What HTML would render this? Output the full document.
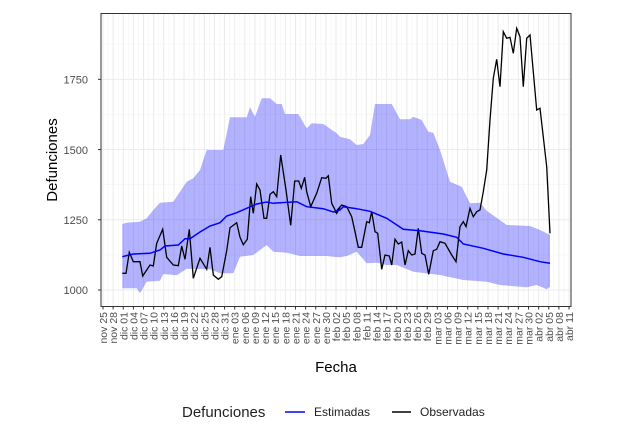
<!DOCTYPE html>
<html><head><meta charset="utf-8"><style>
body{margin:0;background:#fff;}
svg{display:block;font-family:"Liberation Sans",sans-serif;}
</style></head><body>
<svg id="s" width="624" height="430" viewBox="0 0 624 430" xmlns="http://www.w3.org/2000/svg">
<rect x="101" y="13.5" width="470" height="293" fill="#fff"/>
<g id="grid"></g>
<polygon id="band" fill="#0000ff" fill-opacity="0.3" stroke="none"/>
<polyline id="obs" fill="none" stroke="#000" stroke-width="1.3"/>
<polyline id="est" fill="none" stroke="#0000ff" stroke-width="1.5"/>
<rect x="101" y="13.5" width="470" height="293" fill="none" stroke="#333" stroke-width="1"/>
<g id="ticks"></g>
<g font-size="11" fill="#4d4d4d" text-anchor="end">
<text x="88" y="294">1000</text>
<text x="88" y="224">1250</text>
<text x="88" y="154">1500</text>
<text x="88" y="83.5">1750</text>
</g>
<text transform="translate(57,160) rotate(-90)" text-anchor="middle" font-size="15" fill="#000">Defunciones</text>
<text x="336" y="372" text-anchor="middle" font-size="15" fill="#000">Fecha</text>
<text x="182" y="417" font-size="15" fill="#222">Defunciones</text>
<line x1="285" y1="412" x2="305" y2="412" stroke="#0000ff" stroke-width="1.5"/>
<text x="314" y="416" font-size="12" fill="#222">Estimadas</text>
<line x1="392" y1="412" x2="411" y2="412" stroke="#000" stroke-width="1.5"/>
<text x="420" y="416" font-size="12" fill="#222">Observadas</text>
</svg>
<script>
var NS="http://www.w3.org/2000/svg";
function el(t,a,p,txt){var e=document.createElementNS(NS,t);for(var k in a)e.setAttribute(k,a[k]);if(txt)e.textContent=txt;p.appendChild(e);return e;}
function cv(pts,ox){return pts.map(function(p){return [ox+p[0]/3,p[1]/3];});}
var g=document.getElementById('grid'),tk=document.getElementById('ticks');
var x0=103,dx=3.377;
[1000,1250,1500,1750].forEach(function(v){var y=290-(v-1000)*0.2809;el('line',{x1:101,x2:571,y1:y,y2:y,stroke:'#ebebeb','stroke-width':1},g);
el('line',{x1:98,x2:101,y1:y,y2:y,stroke:'#333'},tk);});
[1125,1375,1625,1875].forEach(function(v){var y=290-(v-1000)*0.2809;el('line',{x1:101,x2:571,y1:y,y2:y,stroke:'#f4f4f4','stroke-width':0.6},g);});
var labels=["nov 25","nov 28"];
["01","04","07","10","13","16","19","22","25","28","31"].forEach(function(d){labels.push("dic "+d);});
["03","06","09","12","15","18","21","24","27","30"].forEach(function(d){labels.push("ene "+d);});
["02","05","08","11","14","17","20","23","26","29"].forEach(function(d){labels.push("feb "+d);});
["03","06","09","12","15","18","21","24","27","30"].forEach(function(d){labels.push("mar "+d);});
["02","05","08","11"].forEach(function(d){labels.push("abr "+d);});
labels.forEach(function(l,i){var x=x0+i*3*dx;
el('line',{x1:x,x2:x,y1:13.5,y2:306.5,stroke:'#ebebeb','stroke-width':1},g);
if(i<labels.length-1)el('line',{x1:x+1.5*dx,x2:x+1.5*dx,y1:13.5,y2:306.5,stroke:'#f4f4f4','stroke-width':0.6},g);
el('line',{x1:x,x2:x,y1:306.5,y2:309.5,stroke:'#333'},tk);
el('text',{transform:'translate('+(x+4)+',312) rotate(-90)','text-anchor':'end','font-size':'10.5',fill:'#4d4d4d'},tk,l);});
var estA=cv([[247,770],[280,762],[330,760],[360,750],[375,738],[415,735],[435,716],[450,716],[480,696],[510,678],[540,668],[560,648],[590,638],[620,625],[650,612],[680,606],[700,610],[720,608],[770,605],[800,620],[850,626],[880,636],[900,630]],40);
var estB=cv([[40,620],[80,626],[120,634],[170,655],[220,688],[270,692],[340,702],[380,712],[400,732],[460,745],[520,762],[580,772],[630,785],[660,790]],330);
var upA=cv([[247,672],[260,668],[300,665],[320,655],[340,630],[360,608],[400,605],[440,545],[460,535],[480,510],[500,450],[550,450],[570,352],[620,352],[630,322],[645,350],[665,295],[690,295],[710,312],[725,312],[735,342],[775,342],[800,385],[815,370],[850,372],[890,400],[900,410]],40);
var upB=cv([[60,418],[80,435],[100,432],[120,405],[135,312],[185,312],[210,358],[240,358],[250,350],[275,360],[295,395],[310,398],[330,450],[360,545],[395,560],[420,610],[450,608],[470,632],[530,675],[600,678],[630,690],[660,705]],330);
var loA=cv([[247,865],[290,865],[300,880],[320,845],[360,842],[370,822],[410,826],[440,806],[510,808],[540,820],[580,820],[600,770],[640,765],[680,735],[700,755],[740,758],[780,768],[860,768],[880,770],[900,772]],40);
var loB=cv([[50,768],[80,755],[110,790],[140,788],[170,795],[200,795],[250,815],[330,825],[400,840],[470,845],[510,855],[590,862],[620,855],[650,868],[660,860]],330);
var obA=cv([[247,820],[258,820],[268,757],[280,785],[300,785],[308,828],[330,795],[340,798],[350,730],[368,688],[380,772],[400,795],[415,797],[425,738],[435,778],[448,688],[460,835],[480,775],[500,808],[510,742],[520,825],[535,838],[545,830],[560,752],[570,683],[590,668],[600,712],[610,734],[622,718],[632,590],[640,640],[650,552],[660,570],[672,655],[680,655],[690,583],[700,575],[710,590],[722,465],[738,570],[752,676],[764,543],[776,543],[784,565],[794,532],[800,575],[812,620],[830,580],[845,533],[858,535],[865,527],[875,610],[890,640],[900,622]],40);
var obB=cv([[15,638],[35,615],[50,620],[65,650],[75,695],[85,742],[95,742],[110,665],[118,668],[125,635],[135,695],[143,700],[155,808],[165,765],[178,768],[185,795],[195,718],[205,732],[215,726],[225,795],[235,752],[245,765],[255,762],[265,685],[275,760],[285,765],[296,823],[310,752],[320,748],[330,725],[345,730],[365,765],[378,785],[390,680],[400,665],[408,680],[420,625],[430,650],[440,635],[450,630],[460,575],[470,510],[480,360],[490,235],[500,178],[510,260],[520,95],[530,115],[540,112],[550,160],[560,85],[570,110],[580,260],[590,115],[600,105],[620,330],[630,325],[650,500],[660,700]],330);
function s(a){return a.map(function(p){return p[0].toFixed(1)+','+p[1].toFixed(1);}).join(' ');}
var up=upA.concat(upB),lo=loA.concat(loB).reverse();
document.getElementById('band').setAttribute('points',s(up.concat(lo)));
document.getElementById('est').setAttribute('points',s(estA.concat(estB)));
document.getElementById('obs').setAttribute('points',s(obA.concat(obB)));
</script>
</body></html>
